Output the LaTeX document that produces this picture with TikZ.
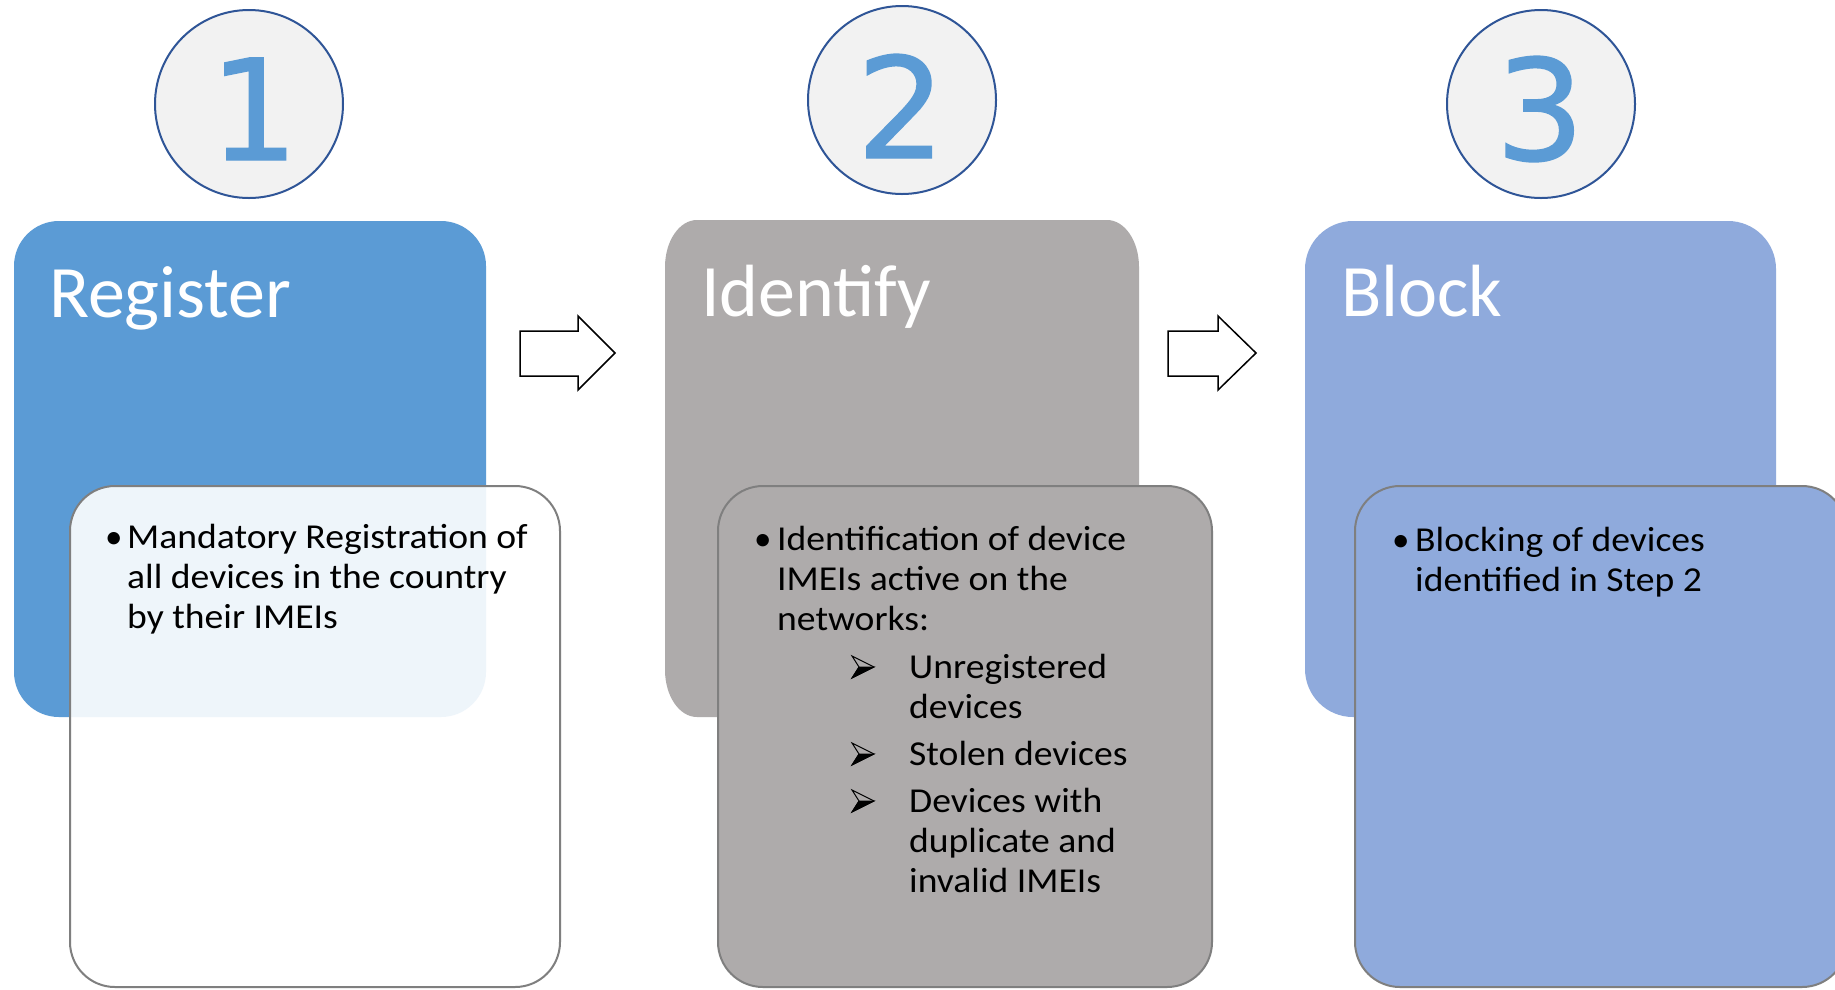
\documentclass[tikz,border=0pt]{standalone}
\usepackage{fontspec}
\setmainfont{Carlito}
\newfontfamily\numfont[FakeBold=1]{DejaVu Sans}
\definecolor{regblue}{HTML}{5B9BD5}
\definecolor{idgrey}{HTML}{AEABAB}
\definecolor{blkblue}{HTML}{8FAADC}
\definecolor{circfill}{HTML}{F2F2F2}
\definecolor{circline}{HTML}{2F5597}
\definecolor{innerline}{HTML}{7F7F7F}
\newcommand{\wide}[1]{\scalebox{1.075}[1]{#1}}
\tikzset{
  stepcircle/.style={circle, minimum size=188pt, inner sep=0pt, draw=circline, line width=2pt, fill=circfill},
  stepnum/.style={anchor=base, inner sep=0pt, text=regblue, font=\numfont\fontsize{140}{160}\selectfont},
  titletext/.style={anchor=base west, inner sep=0pt, text=white, font=\fontsize{74}{88}\selectfont},
  bodytext/.style={anchor=base west, inner sep=0pt, text=black, font=\fontsize{35}{40}\selectfont},
  innerbox/.style={draw=innerline, line width=2pt, rounded corners=45pt},
  blockarrow/.style={draw=black, line width=1.5pt, fill=white, line join=miter},
  ddarrow/.pic={
    \filldraw[black, line width=0.8pt] (7,-11) -- (22,-11) -- (0,0) -- cycle;
    \draw[black, line width=1pt, line join=miter] (0,-22) -- (22,-11) -- (0,0) -- (7,-11) -- cycle;
  }
}
\begin{document}
\begin{tikzpicture}[x=1pt,y=-1pt]
\clip (0,0) rectangle (1835,989);
\fill[white] (0,0) rectangle (1835,989);

% step circles and numbers
\node[stepcircle] (c1) at (249,104) {};
\node[stepcircle] (c2) at (902,100) {};
\node[stepcircle] (c3) at (1541,104) {};
\node[stepnum] (n1) at (254,160) {1};
\node[stepnum] (n2) at (901,158) {2};
\node[stepnum] (n3) at (1540,160) {3};

% big boxes
\fill[regblue, rounded corners=45pt] (14,221) rectangle (486,717);
\fill[idgrey] (665,267) .. controls (665,241) and (679.3,220) .. (697,220) -- (1107,220)
  .. controls (1124.7,220) and (1139,241) .. (1139,267) -- (1139,670)
  .. controls (1139,696) and (1124.7,717) .. (1107,717) -- (697,717)
  .. controls (679.3,717) and (665,696) .. (665,670) -- cycle;
\fill[blkblue, rounded corners=48pt] (1305,221) rectangle (1776,717);

% titles
\node[titletext] (tReg) at (49,317) {Register};
\node[titletext] (tId) at (701,316) {Identify};
\node[titletext] (tBl) at (1341,316) {Block};

% block arrows
\draw[blockarrow] (520,331) -- (578,331) -- (578,316) -- (615,353) -- (578,390) -- (578,376) -- (520,376) -- cycle;
\draw[blockarrow] (1168,331) -- (1218,331) -- (1218,316) -- (1256,353) -- (1218,390) -- (1218,376) -- (1168,376) -- cycle;

% inner boxes
\fill[white, fill opacity=0.9, rounded corners=45pt] (70,486) rectangle (560,987);
\draw[innerbox] (70,486) rectangle (560,987);
\draw[innerbox, fill=idgrey] (718,486) rectangle (1212,987);
\draw[innerbox, fill=blkblue] (1355,486) rectangle (1847,987);

% texts box 1
\node[bodytext] (b1) at (105,548) {•};
\node[bodytext] (x1) at (127,548) {\wide{\parbox[t]{430pt}{\raggedright Mandatory Registration of\\all devices in the country\\by their IMEIs}}};

% texts box 2
\node[bodytext] (b2) at (754,550) {•};
\node[bodytext] (x2) at (777,550) {\wide{\parbox[t]{420pt}{\raggedright Identification of device\\IMEIs active on the\\networks:}}};
\pic at (852,678) {ddarrow};
\pic at (852,765) {ddarrow};
\pic at (852,812) {ddarrow};
\node[bodytext] (s1) at (909,678) {\wide{\parbox[t]{300pt}{\raggedright Unregistered\\devices}}};
\node[bodytext] (s2) at (909,765) {\wide{Stolen devices}};
\node[bodytext] (s3) at (909,812) {\wide{\parbox[t]{300pt}{\raggedright Devices with\\duplicate and\\invalid IMEIs}}};

% texts box 3
\node[bodytext] (b3) at (1392,551) {•};
\node[bodytext] (x3) at (1415,551) {\wide{\parbox[t]{420pt}{\raggedright Blocking of devices\\identified in Step 2}}};
\end{tikzpicture}
\end{document}
